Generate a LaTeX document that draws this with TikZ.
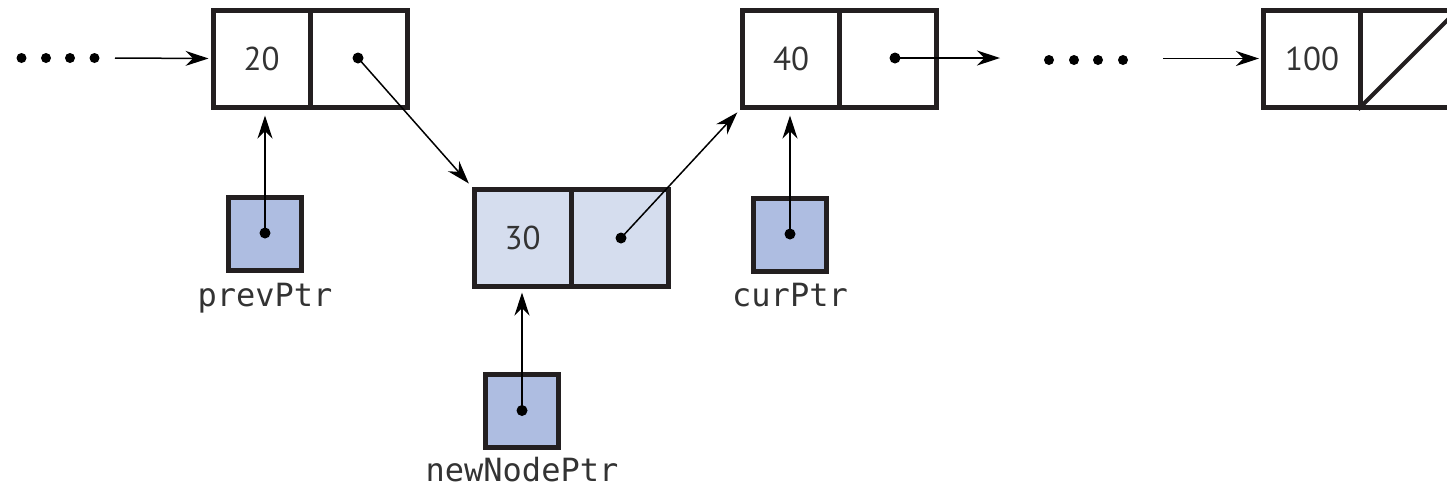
\documentclass[tikz,border=0pt]{standalone}
\usepackage{fontspec}
\setmainfont{PT Sans}
\newfontfamily\monof{DejaVu Sans Mono}
\usetikzlibrary{arrows.meta,calc}
\definecolor{edgec}{HTML}{231F20}
\definecolor{ptrfill}{HTML}{AEBDE1}
\definecolor{newfill}{HTML}{D5DDEE}
\definecolor{txt}{HTML}{333333}
\begin{document}
\begin{tikzpicture}[x=0.5pt,y=-0.5pt,
  cell/.style={draw=edgec, line width=2.5pt, minimum width=48.5pt, minimum height=48.5pt, inner sep=0pt, font=\fontsize{16.5}{18}\selectfont, text=txt},
  newcell/.style={cell, fill=newfill},
  ptrbox/.style={draw=edgec, line width=2.75pt, fill=ptrfill, minimum width=36.5pt, minimum height=36.5pt, inner sep=0pt},
  ptrlabel/.style={font=\monof\fontsize{16}{18}\selectfont, text=txt, anchor=base, inner sep=0pt},
  link/.style={draw=black, line width=0.75pt, -{Stealth[length=11.5pt,width=7.5pt]}},
  dotmark/.style={fill=black, circle, inner sep=0pt, minimum size=5.5pt},
  ellip/.style={fill=black, circle, inner sep=0pt, minimum size=5pt},
]
\clip (0,0) rectangle (1447,489);

% list nodes
\node[cell] (c20l) at (261.5,58.5) {20};
\node[cell] (c20r) at (358.5,58.5) {};
\node[newcell] (c30l) at (522.5,237.5) {30};
\node[newcell] (c30r) at (619.5,237.5) {};
\node[cell] (c40l) at (791,58.5) {40};
\node[cell] (c40r) at (888,58.5) {};
\node[cell] (c100l) at (1312,58.5) {100};
\node[cell] (c100r) at (1409,58.5) {};
\draw[edgec, line width=2pt] (c100r.south west) -- (c100r.north east);

% pointer variables
\node[ptrbox] (prev) at (265,234) {};
\node[ptrbox] (cur) at (790,235) {};
\node[ptrbox] (newp) at (522,411) {};
\node[ptrlabel] (lprev) at (265,306) {prevPtr};
\node[ptrlabel] (lcur) at (790,306) {curPtr};
\node[ptrlabel] (lnew) at (522,481) {newNodePtr};

% dots in cells
\node[dotmark] (d20) at (358,58) {};
\node[dotmark] (d30) at (621,238) {};
\node[dotmark] (d40) at (895,58) {};
\node[dotmark] (dprev) at (265,233) {};
\node[dotmark] (dcur) at (790,234) {};
\node[dotmark] (dnew) at (522,410.5) {};

% ellipses
\node[ellip] (e1) at (21.5,58) {};
\node[ellip] (e2) at (46,58) {};
\node[ellip] (e3) at (70,58) {};
\node[ellip] (e4) at (94.5,58) {};
\node[ellip] (e5) at (1049,60) {};
\node[ellip] (e6) at (1074,60) {};
\node[ellip] (e7) at (1098,60) {};
\node[ellip] (e8) at (1123,60) {};

\coordinate (inL) at (115,58);
\coordinate (out40) at (1000,58);
\coordinate (inR) at (1163,58.5);

% connectors
\draw[link, shorten >=1pt] (inL) -- (c20l.west);
\draw[link, shorten >=2pt] (d20.center) -- (c30l.north west);
\draw[link, shorten >=2pt] (d30.center) -- (c40l.south west);
\draw[link] (d40.center) -- (out40);
\draw[link, shorten >=1pt] (inR) -- (inR -| c100l.west);
\draw[link, shorten >=3pt] (dprev.center) -- (dprev.center |- c20l.south);
\draw[link, shorten >=3pt] (dcur.center) -- (dcur.center |- c40l.south);
\draw[link, shorten >=2pt] (dnew.center) -- (dnew.center |- c30l.south);
\end{tikzpicture}
\end{document}
